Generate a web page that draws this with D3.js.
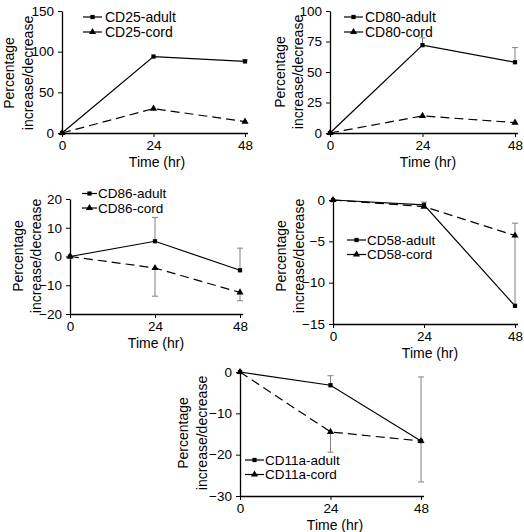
<!DOCTYPE html>
<html><head><meta charset="utf-8">
<script src="https://cdn.jsdelivr.net/npm/d3@7"></script>
<style>
body{margin:0;background:#fff;}
svg{display:block;font-family:"Liberation Sans",Arial,sans-serif;}
</style></head>
<body><svg id="chart" width="524" height="532"></svg>
<script>
// ---- data ----
const timepoints = [0, 24, 48];
const xTickLabels = ["0", "24", "48"];

const cd25Adult = [0, 94, 88];
const cd25Cord = [0, 30, 14];
const cd25AdultErr = [0, 0, 2];
const cd25CordErr = [0, 0, 0];
const cd25Ticks = [0, 50, 100, 150];

const cd80Adult = [0, 72, 58];
const cd80Cord = [0, 14, 8.5];
const cd80AdultErr = [0, 6, 12];
const cd80CordErr = [0, 0, 0];
const cd80Ticks = [0, 25, 50, 75, 100];

const cd86Adult = [0, 5.3, -4.8];
const cd86Cord = [0, -4.0, -12.5];
const cd86AdultErr = [0, 8.3, 7.7];
const cd86CordErr = [0, 9.8, 2.9];
const cd86Ticks = [-20, -10, 0, 10, 20];

const cd58Adult = [0, -0.6, -12.8];
const cd58Cord = [0, -0.8, -4.3];
const cd58AdultErr = [0, 0.35, 10];
const cd58CordErr = [0, 0, 0];
const cd58Ticks = [-15, -10, -5, 0];

const cd11aAdult = [0, -3.2, -16.7];
const cd11aCord = [0, -14.5, -16.7];
const cd11aAdultErr = [0, 2.3, 15.5];
const cd11aCordErr = [0, 4.9, 9.9];
const cd11aTicks = [-30, -20, -10, 0];

const legendLabels = [
  ["CD25-adult", "CD25-cord"],
  ["CD80-adult", "CD80-cord"],
  ["CD86-adult", "CD86-cord"],
  ["CD58-adult", "CD58-cord"],
  ["CD11a-adult", "CD11a-cord"]
];
const yTitleLines = ["Percentage", "increase/decrease"];
const xTitle = "Time (hr)";

// ---- layout ----
const panels = [
  {adult: cd25Adult, cord: cd25Cord, aErr: cd25AdultErr, cErr: cd25CordErr, ticks: cd25Ticks, leg: legendLabels[0],
   x0: 62, x1: 245, y0: 133, y1: 11, tOff: [-48, -29], tY: 73, xtX: 157, lg: {lx0: 83, lx1: 102, tx: 105, r1: 17, r2: 32, fs: 14}},
  {adult: cd80Adult, cord: cd80Cord, aErr: cd80AdultErr, cErr: cd80CordErr, ticks: cd80Ticks, leg: legendLabels[1],
   x0: 330, x1: 515, y0: 133, y1: 11, tOff: [-45, -27], tY: 72, xtX: 428, lg: {lx0: 344, lx1: 363, tx: 365, r1: 17, r2: 32, fs: 14}},
  {adult: cd86Adult, cord: cd86Cord, aErr: cd86AdultErr, cErr: cd86CordErr, ticks: cd86Ticks, leg: legendLabels[2],
   x0: 70, x1: 240, y0: 314, y1: 199, tOff: [-47, -29], tY: 256, xtX: 156, lg: {lx0: 82, lx1: 97, tx: 98, r1: 193.5, r2: 208, fs: 13.5}},
  {adult: cd58Adult, cord: cd58Cord, aErr: cd58AdultErr, cErr: cd58CordErr, ticks: cd58Ticks, leg: legendLabels[3],
   x0: 333, x1: 515, y0: 324, y1: 200, tOff: [-47, -29], tY: 256, xtX: 430, lg: {lx0: 347, lx1: 366, tx: 367, r1: 240, r2: 254.5, fs: 13.5}},
  {adult: cd11aAdult, cord: cd11aCord, aErr: cd11aAdultErr, cErr: cd11aCordErr, ticks: cd11aTicks, leg: legendLabels[4],
   x0: 240, x1: 421, y0: 496, y1: 372, tOff: [-52, -33], tY: 433, xtX: 335, lg: {lx0: 245, lx1: 264, tx: 265, r1: 460, r2: 474.5, fs: 13.5}}
];

const FONT = '"Liberation Sans", Arial, sans-serif';
const svg = d3.select("#chart");
const sq = d3.symbol().type(d3.symbolSquare).size(18);
const tri = d3.symbol().type(d3.symbolTriangle).size(22);

panels.forEach(p => {
  const g = svg.append("g");
  const x = d3.scaleLinear().domain([0, 48]).range([p.x0, p.x1]);
  const y = d3.scaleLinear().domain(d3.extent(p.ticks)).range([p.y0, p.y1]);

  // axes
  const xa = g.append("g").attr("transform", `translate(0,${p.y0})`)
    .call(d3.axisBottom(x).tickValues(timepoints).tickFormat((d, i) => xTickLabels[i])
      .tickSize(4).tickSizeOuter(0).tickPadding(3));
  const ya = g.append("g").attr("transform", `translate(${p.x0},0)`)
    .call(d3.axisLeft(y).tickValues(p.ticks).tickFormat(d3.format("d"))
      .tickSize(4).tickSizeOuter(0).tickPadding(4));
  [xa, ya].forEach(a => {
    a.attr("font-family", FONT).attr("font-size", 13.5);
    a.select(".domain").attr("stroke", "#000").attr("stroke-width", 1.3);
    a.selectAll(".tick line").attr("stroke", "#000").attr("stroke-width", 1);
    a.selectAll("text").attr("fill", "#000");
  });
  xa.select(".domain").attr("d", `M${p.x0},0.5H${p.x1 + 3}`);

  // titles
  yTitleLines.forEach((t, i) => {
    g.append("text")
      .attr("transform", `translate(${p.x0 + p.tOff[i]},${p.tY}) rotate(-90)`)
      .attr("text-anchor", "middle")
      .style("font-size", "14px")
      .text(t);
  });
  g.append("text").attr("x", p.xtX).attr("y", p.y0 + 34)
    .attr("text-anchor", "middle").style("font-size", "14px").text(xTitle);

  const line = d3.line().x((d, i) => x(timepoints[i])).y(d => y(d));

  // series lines
  g.append("path").datum(p.cord).attr("d", line).attr("fill", "none")
    .attr("stroke", "#000").attr("stroke-width", 1.2).attr("stroke-dasharray", "9,5");
  g.append("path").datum(p.adult).attr("d", line).attr("fill", "none")
    .attr("stroke", "#000").attr("stroke-width", 1.2);

  // error bars: adult upward, cord downward
  const errs = [];
  p.adult.forEach((v, i) => { if (p.aErr[i] > 0) errs.push({t: timepoints[i], a: v, b: v + p.aErr[i]}); });
  p.cord.forEach((v, i) => { if (p.cErr[i] > 0) errs.push({t: timepoints[i], a: v, b: v - p.cErr[i]}); });
  errs.forEach(e => {
    g.append("line").attr("x1", x(e.t)).attr("x2", x(e.t)).attr("y1", y(e.a)).attr("y2", y(e.b))
      .attr("stroke", "#808080").attr("stroke-width", 1);
    g.append("line").attr("x1", x(e.t) - 3).attr("x2", x(e.t) + 3).attr("y1", y(e.b)).attr("y2", y(e.b))
      .attr("stroke", "#808080").attr("stroke-width", 1);
  });

  // markers
  p.cord.forEach((v, i) => {
    g.append("path").attr("d", tri).attr("transform", `translate(${x(timepoints[i])},${y(v)})`).attr("fill", "#000");
  });
  p.adult.forEach((v, i) => {
    g.append("path").attr("d", sq).attr("transform", `translate(${x(timepoints[i])},${y(v)})`).attr("fill", "#000");
  });

  // legend
  const L = p.lg;
  [[L.r1, sq], [L.r2, tri]].forEach((r, i) => {
    g.append("line").attr("x1", L.lx0).attr("x2", L.lx1).attr("y1", r[0]).attr("y2", r[0])
      .attr("stroke", "#000").attr("stroke-width", 1.2);
    g.append("path").attr("d", r[1]).attr("transform", `translate(${(L.lx0 + L.lx1) / 2},${r[0]})`).attr("fill", "#000");
    g.append("text").attr("x", L.tx).attr("y", r[0]).attr("dy", "0.36em")
      .style("font-size", L.fs + "px").text(p.leg[i]);
  });
});
</script></body></html>
